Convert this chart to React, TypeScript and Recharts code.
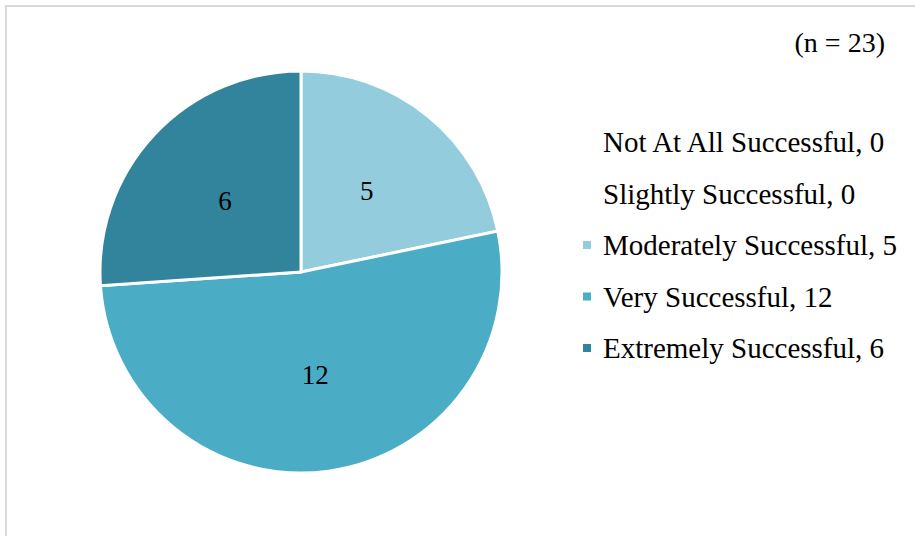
import { PieChart, Pie, Cell, Legend } from "recharts";

// ----------------------------------------------------------------------------
// Data
// ----------------------------------------------------------------------------

const CATEGORIES = [
  "Not At All Successful",
  "Slightly Successful",
  "Moderately Successful",
  "Very Successful",
  "Extremely Successful",
];

const COUNTS = [0, 0, 5, 12, 6];

const COLORS = ["#d9eef4", "#b7dfea", "#93cddd", "#4bacc6", "#31849b"];

const SAMPLE_NOTE = "(n = 23)";

const FONT = "'Liberation Serif', 'Times New Roman', serif";
const RADIAN = Math.PI / 180;

const pieData = CATEGORIES.map((name, i) => ({
  name,
  value: COUNTS[i],
  fill: COLORS[i],
})).filter((d) => d.value > 0);

function renderSliceLabel(props: any) {
  const { cx, cy, midAngle, value } = props;
  const r = 104;
  const x = cx + r * Math.cos(-midAngle * RADIAN);
  const y = cy + r * Math.sin(-midAngle * RADIAN);
  return (
    <text
      x={x}
      y={y}
      textAnchor="middle"
      dominantBaseline="central"
      fontFamily={FONT}
      fontSize={27}
      fill="#000"
    >
      {value}
    </text>
  );
}

function LegendBox() {
  return (
    <svg width={340} height={280} style={{ display: "block" }}>
      {CATEGORIES.map((name, i) => {
        const base = 52 + i * 51.5;
        return (
          <g key={name}>
            {COUNTS[i] > 0 && (
              <rect x={8} y={base - 14} width={8} height={8} fill={COLORS[i]} />
            )}
            <text x={28} y={base} fontFamily={FONT} fontSize={29} fill="#000">
              {`${name}, ${COUNTS[i]}`}
            </text>
          </g>
        );
      })}
    </svg>
  );
}

export default function App() {
  return (
    <div
      style={{
        position: "absolute",
        left: 0,
        top: 0,
        width: 915,
        height: 536,
        background: "#fff",
        overflow: "hidden",
      }}
    >
      <div
        style={{
          position: "absolute",
          left: 5,
          top: 5,
          width: 930,
          height: 560,
          borderLeft: "2px solid #d9d9d9",
          borderTop: "2px solid #d9d9d9",
        }}
      />
      <PieChart width={915} height={536} margin={{ top: 0, right: 0, bottom: 0, left: 0 }}>
        <Pie
          data={pieData}
          dataKey="value"
          nameKey="name"
          cx={301}
          cy={272}
          outerRadius={201}
          startAngle={90}
          endAngle={-270}
          stroke="#fff"
          strokeWidth={3}
          label={renderSliceLabel}
          labelLine={false}
          isAnimationActive={false}
        >
          {pieData.map((d) => (
            <Cell key={d.name} fill={d.fill} />
          ))}
        </Pie>
        <Legend
          content={() => <LegendBox />}
          wrapperStyle={{ position: "absolute", left: 575, top: 100, width: 340 }}
        />
      </PieChart>
      <div
        style={{
          position: "absolute",
          right: 30,
          top: 26,
          fontFamily: FONT,
          fontSize: 28,
          color: "#000",
          lineHeight: "34px",
        }}
      >
        {SAMPLE_NOTE}
      </div>
    </div>
  );
}
